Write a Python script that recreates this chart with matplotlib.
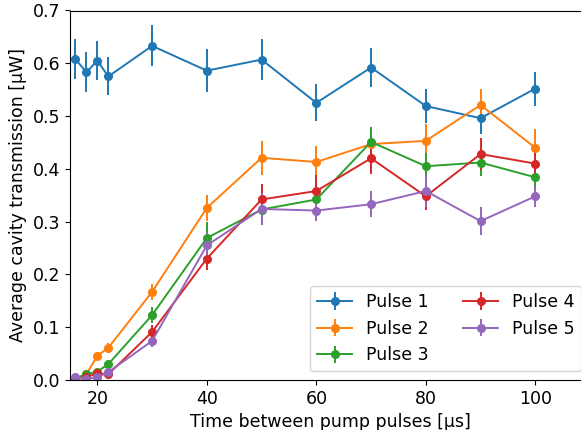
import numpy as np
import matplotlib.pyplot as plt

t = [16, 18, 20, 22, 30, 40, 50, 60, 70, 80, 90, 100]

p1 = [0.608, 0.583, 0.605, 0.575, 0.633, 0.586, 0.607, 0.525, 0.592, 0.519, 0.496, 0.552]
e1 = [0.038, 0.038, 0.037, 0.036, 0.039, 0.041, 0.039, 0.035, 0.037, 0.032, 0.030, 0.032]
p2 = [0.003, 0.011, 0.046, 0.061, 0.167, 0.326, 0.421, 0.413, 0.447, 0.453, 0.521, 0.440]
e2 = [0.003, 0.004, 0.007, 0.010, 0.015, 0.025, 0.032, 0.030, 0.030, 0.032, 0.030, 0.035]
p3 = [0.003, 0.011, 0.016, 0.030, 0.123, 0.269, 0.323, 0.342, 0.451, 0.405, 0.412, 0.384]
e3 = [0.003, 0.004, 0.005, 0.007, 0.015, 0.030, 0.030, 0.030, 0.028, 0.025, 0.025, 0.025]
p4 = [0.001, 0.005, 0.013, 0.011, 0.091, 0.230, 0.342, 0.358, 0.420, 0.348, 0.428, 0.410]
e4 = [0.002, 0.003, 0.005, 0.005, 0.013, 0.022, 0.030, 0.030, 0.030, 0.025, 0.030, 0.030]
p5 = [0.005, 0.002, 0.005, 0.015, 0.074, 0.255, 0.324, 0.321, 0.333, 0.358, 0.301, 0.348]
e5 = [0.003, 0.003, 0.004, 0.005, 0.012, 0.025, 0.030, 0.020, 0.025, 0.030, 0.026, 0.020]

labels = ["Pulse 1", "Pulse 2", "Pulse 3", "Pulse 4", "Pulse 5"]

fig = plt.figure(figsize=(5.81, 4.30), dpi=100)
# axes runs a little past the right edge of the figure, as in the reference crop
ax = fig.add_axes([70 / 581, 50 / 430, 520 / 581, 369.5 / 430])

for y, e, lab in zip([p1, p2, p3, p4, p5], [e1, e2, e3, e4, e5], labels):
    ax.errorbar(t, y, yerr=e, fmt="o-", ms=5.5, lw=1.4, elinewidth=1.4, label=lab)

ax.set_xlim(15, 110)
ax.set_ylim(0, 0.7)
ax.set_xticks([20, 40, 60, 80, 100])
ax.tick_params(labelsize=12.5)
ax.set_xlabel("Time between pump pulses [µs]", fontsize=12.5)
ax.set_ylabel("Average cavity transmission [µW]", fontsize=12.5)
ax.legend(loc="lower right", ncol=2, fontsize=12.5)

plt.savefig("out.png", dpi=100)
